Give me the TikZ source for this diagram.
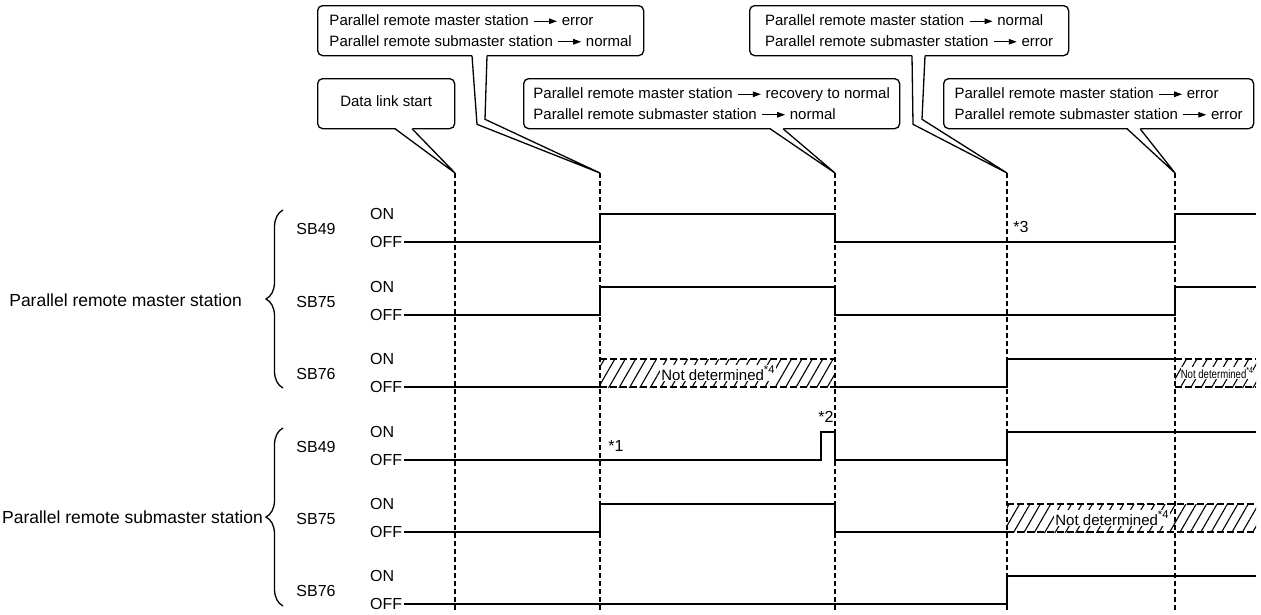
\documentclass[tikz,border=0pt]{standalone}
\usepackage{fontspec}
\setmainfont{Liberation Sans}
\usetikzlibrary{patterns.meta,decorations.pathreplacing,calc,arrows.meta}

% small arrow used inside the callout texts
\newcommand{\toarrow}{\hspace{0.5pt}\tikz[baseline=-4.5pt]\draw[line width=1.2pt,-{Triangle[length=8pt,width=5.5pt]}] (0pt,0pt) -- (23pt,0pt);}
% footnote mark after "Not determined"
\newcommand{\fnmark}[1]{\raisebox{0.45em}{\scalebox{0.75}{#1}}}

\begin{document}
\begin{tikzpicture}[x=1pt,y=-1pt,
  callout/.style={draw,line width=1.3pt,rounded corners=5pt,fill=white,align=left,
    font=\fontsize{15}{20.5}\selectfont,inner xsep=8pt,inner ysep=3pt,anchor=north west,minimum height=50pt},
  leader/.style={line width=1.3pt,line join=miter},
  timeline/.style={line width=1.5pt,dash pattern=on 5pt off 3pt},
  sig/.style={line width=2.2pt,line join=miter},
  hatch/.style={pattern={Lines[angle=60,distance=9pt,line width=1.1pt]}},
  hatchedge/.style={line width=1.4pt,dash pattern=on 7pt off 3pt},
  ndet/.style={font=\fontsize{15}{16}\selectfont,fill=white,inner sep=1pt},
  lbl/.style={font=\fontsize{16}{18}\selectfont,inner sep=0pt},
  station/.style={font=\fontsize{17.5}{20}\selectfont,inner sep=0pt,anchor=east},
  note/.style={font=\fontsize{16}{18}\selectfont,inner sep=0pt},
  brace/.style={line width=1.3pt,decorate,decoration={brace,amplitude=17pt}}]

\useasboundingbox (0,0) rectangle (1261,614);

% time markers
\coordinate (t1) at (455,173);  \coordinate (b1) at (455,610);
\coordinate (t2) at (600,173);  \coordinate (b2) at (600,610);
\coordinate (t3) at (835,173);  \coordinate (b3) at (835,610);
\coordinate (t4) at (1007,173); \coordinate (b4) at (1007,610);
\coordinate (t5) at (1175,173); \coordinate (b5) at (1175,610);
\foreach \i in {1,...,5} \draw[timeline] (t\i) -- (b\i);

% callouts
\node[callout,minimum width=137pt,align=center] (c0) at (317,78) {\raisebox{6pt}{Data link start}};
\node[callout,minimum width=326pt] (c1) at (317,5)
  {Parallel remote master station \toarrow{} error\\Parallel remote submaster station \toarrow{} normal};
\node[callout,minimum width=376pt] (c2) at (523,78)
  {Parallel remote master station \toarrow{} recovery to normal\\Parallel remote submaster station \toarrow{} normal};
\node[callout,minimum width=319pt] (c3) at (749,5)
  {Parallel remote master station \toarrow{} normal\\Parallel remote submaster station \toarrow{} error};
\node[callout,minimum width=310pt] (c4) at (943,78)
  {Parallel remote master station \toarrow{} error\\Parallel remote submaster station \toarrow{} error};

% straight pointers
\foreach \c/\a/\b/\t in {c0/78/95/t1, c2/247/260/t3, c4/184/197/t5} {
  \fill[white] ($(\c.south west)+(\a,-1.5)$) -- (\t) -- ($(\c.south west)+(\b,-1.5)$) -- cycle;
  \draw[leader] ($(\c.south west)+(\a,-0.6)$) -- (\t) -- ($(\c.south west)+(\b,-0.6)$);
}
% bent pointers
\foreach \c/\a/\ab/\b/\bb/\t in {c1/155/160/170/168/t2, c3/163/164/176/173/t4} {
  \fill[white] ($(\c.south west)+(\a,-1.5)$) -- ($(\c.south west)+(\ab,68)$) -- (\t)
     -- ($(\c.south west)+(\bb,63)$) -- ($(\c.south west)+(\b,-1.5)$) -- cycle;
  \draw[leader] ($(\c.south west)+(\a,-0.6)$) -- ($(\c.south west)+(\ab,68)$) -- (\t)
     -- ($(\c.south west)+(\bb,63)$) -- ($(\c.south west)+(\b,-0.6)$);
}

% station labels and braces
\node[station] (mst) at (242,300) {Parallel remote master station};
\node[station] (sub) at (263,517) {Parallel remote submaster station};
\draw[brace] (283,388) -- (283,210);
\draw[brace] (283,606) -- (283,428);

% signal labels
\foreach \n/\sb/\off in {m49/SB49/242, m75/SB75/315, m76/SB76/387, s49/SB49/460, s75/SB75/532, s76/SB76/604} {
  \node[lbl] (\n) at (316,\off-13) {\sb};
  \node[lbl,anchor=west] (\n-on) at (370,\off-28) {ON};
  \node[lbl,anchor=west] (\n-off) at (370,\off) {OFF};
}

% master station signals
\draw[sig] ([xshift=2pt]m49-off.east) -- (600,242) -- (600,214) -- (835,214) -- (835,242)
  -- (1175,242) -- (1175,214) -- (1256,214);
\draw[sig] ([xshift=2pt]m75-off.east) -- (600,315) -- (600,287) -- (835,287) -- (835,315)
  -- (1175,315) -- (1175,287) -- (1256,287);
\draw[sig] ([xshift=2pt]m76-off.east) -- (600,387);
\draw[sig] (835,387) -- (1007,387) -- (1007,359) -- (1175,359);
\fill[hatch] (600,359) rectangle (835,387);
\draw[hatchedge] (600,359) -- (835,359) (600,387) -- (835,387);
\node[ndet] (nd1) at (718,373) {Not determined\fnmark{*4}};
\fill[hatch] (1175,359) rectangle (1256,387);
\draw[hatchedge] (1175,359) -- (1256,359) (1175,387) -- (1256,387);
\node[ndet,font=\fontsize{12}{13}\selectfont,inner sep=0pt] (nd2) at (1217,373)
  {\scalebox{0.8}[1]{Not determined\fnmark{*4}}};

% submaster station signals
\draw[sig] ([xshift=2pt]s49-off.east) -- (821,460) -- (821,432) -- (835,432) -- (835,460)
  -- (1007,460) -- (1007,432) -- (1256,432);
\draw[sig] ([xshift=2pt]s75-off.east) -- (600,532) -- (600,504) -- (835,504) -- (835,532)
  -- (1007,532);
\fill[hatch] (1007,504) rectangle (1256,532);
\draw[hatchedge] (1007,504) -- (1256,504) (1007,532) -- (1256,532);
\node[ndet] (nd3) at (1112,518) {Not determined\fnmark{*4}};
\draw[sig] ([xshift=2pt]s76-off.east) -- (1007,604) -- (1007,576) -- (1256,576);

% notes
\node[note] (n1) at (616,446) {*1};
\node[note] (n2) at (826,417) {*2};
\node[note] (n3) at (1021,227) {*3};
\end{tikzpicture}
\end{document}
